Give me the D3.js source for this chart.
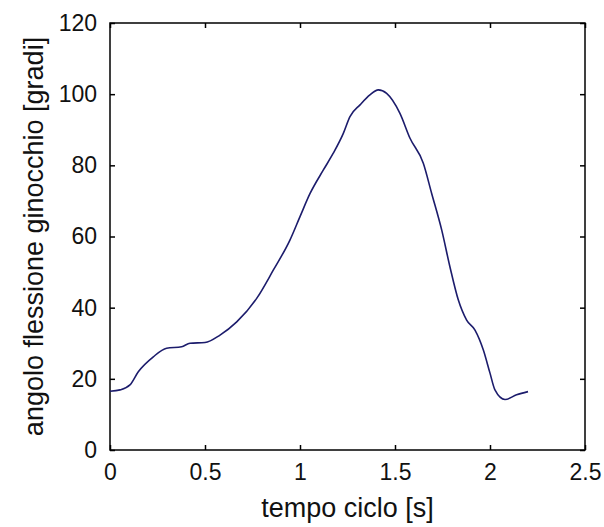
<!DOCTYPE html>
<html>
<head>
<meta charset="utf-8">
<script src="https://cdn.jsdelivr.net/npm/d3@7"></script>
<style>
html,body{margin:0;padding:0;background:#fff;}
svg{display:block;}
text{font-family:"Liberation Sans",Arial,sans-serif;fill:#111;}
</style>
</head>
<body>
<svg id="chart" width="604" height="527"></svg>
<script>
const timeS = [0, 0.053, 0.105, 0.149, 0.228, 0.298, 0.377, 0.421, 0.5, 0.579, 0.667, 0.772, 0.86, 0.947, 1.0, 1.053, 1.123, 1.175, 1.228, 1.263, 1.316, 1.368, 1.412, 1.456, 1.526, 1.579, 1.649, 1.693, 1.746, 1.789, 1.833, 1.877, 1.921, 1.965, 2.0, 2.026, 2.079, 2.14, 2.2];
const angleDeg = [16.5, 16.9, 18.3, 22, 26.2, 28.6, 29, 30, 30.2, 32.3, 36, 42.6, 50.6, 59, 65.6, 72.1, 78.7, 83.4, 89, 93.7, 97, 99.8, 101.2, 100.2, 94.6, 87.6, 80.6, 72.1, 61.8, 51.5, 42.2, 36.5, 33.7, 28.1, 21.6, 16.9, 14.2, 15.5, 16.4];
const xTicks = [0, 0.5, 1, 1.5, 2, 2.5];
const xTickLabels = ["0", "0.5", "1", "1.5", "2", "2.5"];
const yTicks = [0, 20, 40, 60, 80, 100, 120];
const yTickLabels = ["0", "20", "40", "60", "80", "100", "120"];
const xLabel = "tempo ciclo [s]";
const yLabel = "angolo flessione ginocchio [gradi]";

const svg = d3.select("#chart");
const L = 110, R = 585, T = 23, B = 450;
const x = d3.scaleLinear().domain([0, 2.5]).range([L, R]);
const y = d3.scaleLinear().domain([0, 120]).range([B, T]);

const tickLen = 5;
const gB = svg.append("g").attr("transform", `translate(0,${B})`)
  .call(d3.axisBottom(x).tickValues(xTicks).tickFormat((d,i)=>xTickLabels[i]).tickSizeInner(-tickLen).tickSizeOuter(0).tickPadding(14));
const gT = svg.append("g").attr("transform", `translate(0,${T})`)
  .call(d3.axisTop(x).tickValues(xTicks).tickFormat("").tickSizeInner(-tickLen).tickSizeOuter(0));
const gL = svg.append("g").attr("transform", `translate(${L},0)`)
  .call(d3.axisLeft(y).tickValues(yTicks).tickFormat((d,i)=>yTickLabels[i]).tickSizeInner(-tickLen).tickSizeOuter(0).tickPadding(13));
const gR = svg.append("g").attr("transform", `translate(${R},0)`)
  .call(d3.axisRight(y).tickValues(yTicks).tickFormat("").tickSizeInner(-tickLen).tickSizeOuter(0));
[gB,gT,gL,gR].forEach(g=>{
  g.select(".domain").remove();
  g.selectAll(".tick line").attr("stroke","#000").attr("stroke-width",1.5);
  g.selectAll(".tick text").attr("font-family",'"Liberation Sans",Arial,sans-serif').attr("font-size",23).attr("fill","#111");
});
gB.selectAll(".tick text").attr("dy","0.71em");

svg.append("rect").attr("x",L).attr("y",T).attr("width",R-L).attr("height",B-T)
  .attr("fill","none").attr("stroke","#000").attr("stroke-width",1.5);

const line = d3.line().x((d,i)=>x(timeS[i])).y((d,i)=>y(angleDeg[i])).curve(d3.curveMonotoneX);
svg.append("path").attr("d", line(angleDeg)).attr("fill","none").attr("stroke","#1c1c6c").attr("stroke-width",1.6);

svg.append("text").attr("x",(L+R)/2).attr("y",517).attr("text-anchor","middle").attr("font-size",27).text(xLabel);
svg.append("text").attr("transform",`translate(43,${(T+B)/2}) rotate(-90)`).attr("text-anchor","middle").attr("font-size",27).text(yLabel);
</script>
</body>
</html>
